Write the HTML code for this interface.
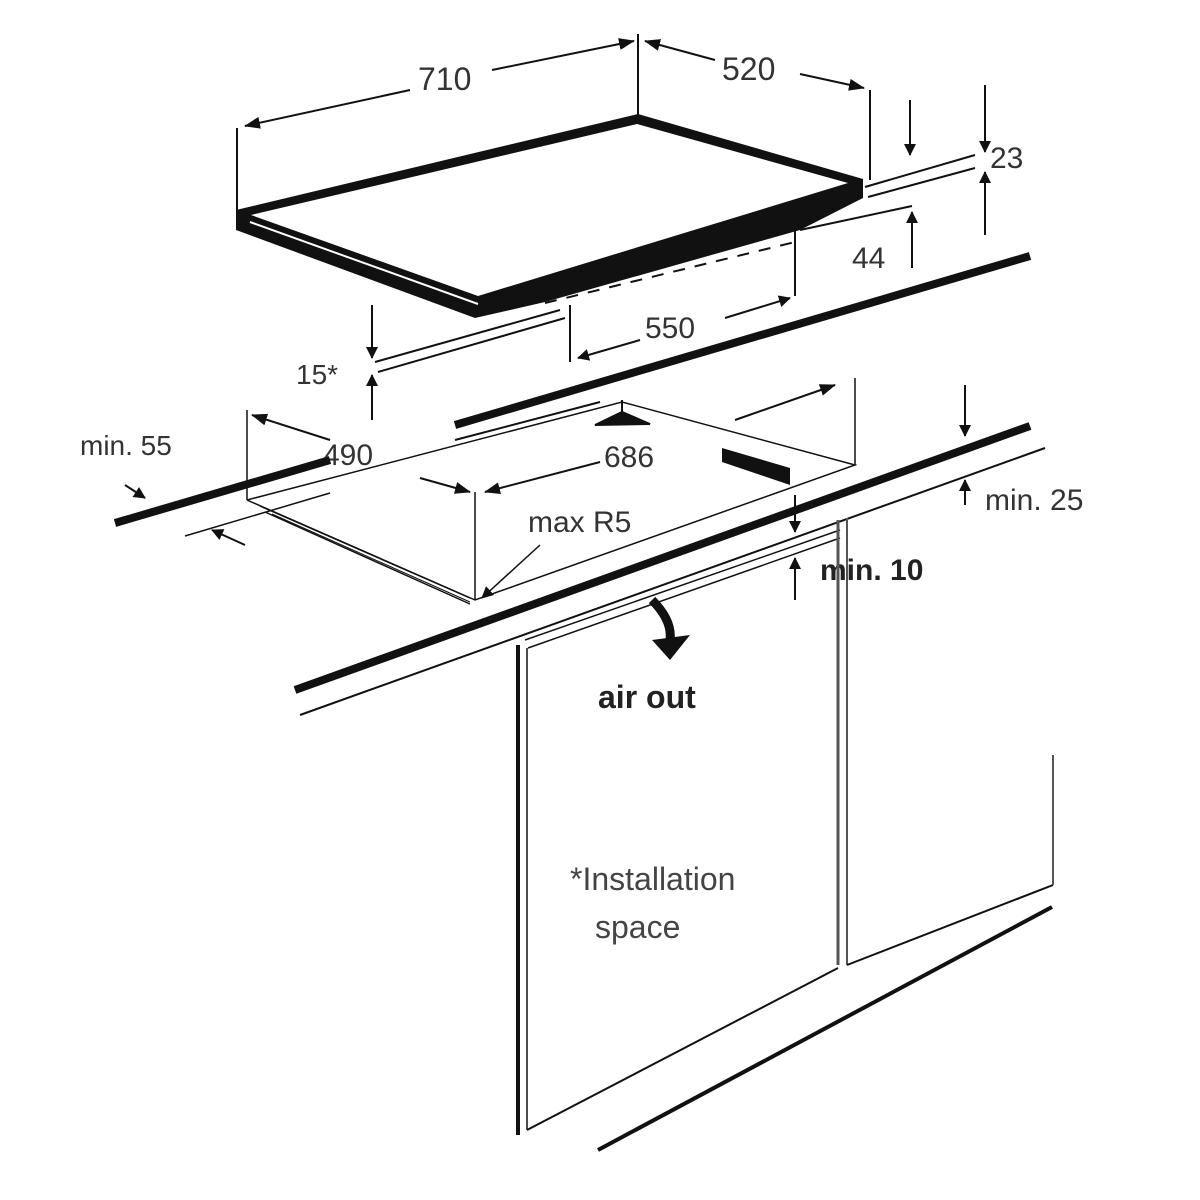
<!DOCTYPE html>
<html><head><meta charset="utf-8"><style>
html,body{margin:0;padding:0;background:#fff;width:1200px;height:1200px;overflow:hidden}
svg text{font-family:"Liberation Sans",Arial,sans-serif;fill:#333}
</style></head><body>
<svg width="1200" height="1200" viewBox="0 0 1200 1200" xmlns="http://www.w3.org/2000/svg">
<defs>
<marker id="a" markerWidth="12" markerHeight="12" refX="11" refY="6" orient="auto" markerUnits="userSpaceOnUse">
<path d="M0,0 L12,6 L0,12 z" fill="#111"/></marker>
<marker id="b" markerWidth="16" markerHeight="12" refX="15" refY="6" orient="auto" markerUnits="userSpaceOnUse">
<path d="M0,0 L16,6 L0,12 z" fill="#111"/></marker>
</defs>
<g stroke="#111" fill="none" stroke-width="2">
<polygon points="236,210 236,230 475,318 545,302 800,230 863,198 863,179 638,114" fill="#111" stroke="none"/>
<polygon points="251,215 637,124 848,183 478,296" fill="#fff" stroke="none"/>
<line x1="250" y1="222" x2="478" y2="304" stroke="#fff" stroke-width="2"/>
<line x1="545" y1="303" x2="795" y2="242" stroke-dasharray="12,10"/>
<line x1="237" y1="128" x2="237" y2="215"/>
<line x1="638" y1="34" x2="638" y2="118"/>
<line x1="870" y1="90" x2="870" y2="180"/>
<line x1="410" y1="90" x2="245" y2="126" marker-end="url(#b)"/>
<line x1="492" y1="70" x2="634" y2="41" marker-end="url(#b)"/>
<text x="418" y="90" font-size="32" stroke="none">710</text>
<line x1="715" y1="60" x2="645" y2="41" marker-end="url(#b)"/>
<line x1="800" y1="74" x2="864" y2="88" marker-end="url(#b)"/>
<text x="722" y="80" font-size="32" stroke="none">520</text>
<line x1="865" y1="187" x2="975" y2="155"/>
<line x1="868" y1="197" x2="975" y2="168"/>
<line x1="985" y1="85" x2="985" y2="152" marker-end="url(#a)"/>
<line x1="985" y1="235" x2="985" y2="172" marker-end="url(#a)"/>
<text x="990" y="168" font-size="30" stroke="none">23</text>
<line x1="910" y1="100" x2="910" y2="155" marker-end="url(#a)"/>
<line x1="800" y1="230" x2="912" y2="206"/>
<line x1="912" y1="268" x2="912" y2="212" marker-end="url(#a)"/>
<text x="852" y="268" font-size="30" stroke="none">44</text>
<line x1="795" y1="228" x2="795" y2="296"/>
<line x1="570" y1="305" x2="570" y2="362"/>
<line x1="640" y1="340" x2="578" y2="358" marker-end="url(#a)"/>
<line x1="725" y1="318" x2="790" y2="298" marker-end="url(#a)"/>
<text x="645" y="338" font-size="30" stroke="none">550</text>
<line x1="375" y1="362" x2="560" y2="310"/>
<line x1="378" y1="372" x2="565" y2="318"/>
<line x1="372" y1="305" x2="372" y2="358" marker-end="url(#a)"/>
<line x1="372" y1="420" x2="372" y2="375" marker-end="url(#a)"/>
<text x="296" y="384" font-size="28" stroke="none">15*</text>
<line x1="455" y1="425" x2="1030" y2="256" stroke-width="8"/>
<line x1="455" y1="440" x2="600" y2="402" stroke-width="2"/>
<polyline points="247,500 622,402 855,465 475,600 247,500" stroke-width="1.5"/>
<line x1="260" y1="506" x2="470" y2="598" stroke-width="1.5"/>
<line x1="265" y1="512" x2="470" y2="604" stroke-width="1.5"/>
<line x1="272" y1="514" x2="470" y2="602" stroke-width="1"/>
<polygon points="595,425 622,412 650,424" fill="#111"/>
<line x1="622" y1="400" x2="622" y2="420"/>
<polygon points="722,448 790,468 790,485 722,462" fill="#111" stroke="none"/>
<line x1="247" y1="410" x2="247" y2="500" stroke-width="1.5"/>
<line x1="855" y1="378" x2="855" y2="465" stroke-width="1.5"/>
<line x1="735" y1="420" x2="835" y2="385" marker-end="url(#b)"/>
<line x1="475" y1="492" x2="475" y2="600" stroke-width="1.5"/>
<line x1="330" y1="440" x2="252" y2="415" marker-end="url(#b)"/>
<line x1="420" y1="478" x2="470" y2="492" marker-end="url(#b)"/>
<text x="323" y="465" font-size="30" stroke="none">490</text>
<line x1="600" y1="462" x2="485" y2="492" marker-end="url(#b)"/>
<text x="604" y="467" font-size="30" stroke="none">686</text>
<text x="528" y="532" font-size="30" stroke="none">max R5</text>
<line x1="540" y1="545" x2="482" y2="598" marker-end="url(#a)" stroke-width="1.5"/>
<line x1="115" y1="523" x2="330" y2="460" stroke-width="8"/>
<line x1="185" y1="536" x2="330" y2="493" stroke-width="1.5"/>
<text x="80" y="455" font-size="28" stroke="none">min. 55</text>
<line x1="125" y1="485" x2="145" y2="498" marker-end="url(#a)"/>
<line x1="245" y1="545" x2="212" y2="530" marker-end="url(#a)"/>
<line x1="295" y1="690" x2="1030" y2="426" stroke-width="8"/>
<line x1="300" y1="715" x2="1045" y2="448" stroke-width="2"/>
<line x1="525" y1="640" x2="840" y2="530" stroke-width="1.5"/>
<line x1="528" y1="648" x2="840" y2="538" stroke-width="1.5"/>
<line x1="965" y1="385" x2="965" y2="436" marker-end="url(#a)"/>
<line x1="965" y1="505" x2="965" y2="480" marker-end="url(#a)"/>
<text x="985" y="510" font-size="30" stroke="none">min. 25</text>
<line x1="795" y1="495" x2="795" y2="532" marker-end="url(#a)"/>
<line x1="795" y1="600" x2="795" y2="558" marker-end="url(#a)"/>
<text x="820" y="580" font-size="30" font-weight="bold" stroke="none" style="fill:#222">min. 10</text>
<path d="M652,600 C664,612 672,625 670,640" stroke-width="9"/>
<polygon points="652,640 690,635 670,660" fill="#111" stroke="none"/>
<text x="598" y="708" font-size="32" font-weight="bold" stroke="none" style="fill:#222">air out</text>
<line x1="518" y1="645" x2="518" y2="1135" stroke-width="4"/>
<line x1="527" y1="648" x2="527" y2="1130" stroke-width="1.5"/>
<line x1="838" y1="520" x2="838" y2="965" stroke-width="3" stroke="#555"/>
<line x1="847" y1="518" x2="847" y2="965" stroke-width="2" stroke="#555"/>
<line x1="527" y1="1130" x2="838" y2="968" stroke-width="2"/>
<line x1="847" y1="965" x2="1053" y2="885" stroke-width="2"/>
<line x1="1053" y1="755" x2="1053" y2="885" stroke-width="2" stroke="#555"/>
<line x1="598" y1="1150" x2="1052" y2="907" stroke-width="4"/>
<text x="570" y="890" font-size="32" stroke="none" style="fill:#444">*Installation</text>
<text x="595" y="938" font-size="32" stroke="none" style="fill:#444">space</text>
</g>
</svg>
</body></html>
